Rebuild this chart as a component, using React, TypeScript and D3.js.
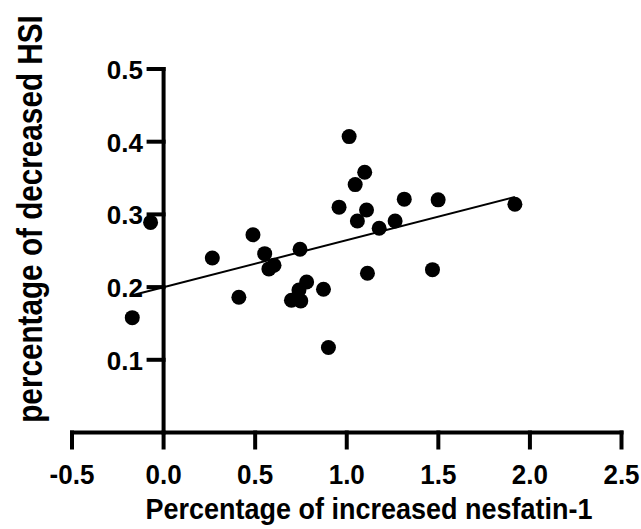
import * as React from 'react';
import * as d3 from 'd3';

// values
const nesfatin: number[] = [
  -0.171, -0.071, 0.266, 0.411, 0.488, 0.552, 0.603, 0.575, 0.745, 0.781,
  0.739, 0.873, 0.698, 0.749, 0.900, 1.113, 1.468, 0.958, 1.013, 1.098,
  1.046, 1.108, 1.058, 1.177, 1.264, 1.314, 1.499, 1.918,
];
const hsi: number[] = [
  0.158, 0.289, 0.240, 0.186, 0.272, 0.246, 0.230, 0.225, 0.252, 0.207,
  0.196, 0.197, 0.182, 0.181, 0.117, 0.219, 0.224, 0.310, 0.407, 0.358,
  0.341, 0.306, 0.291, 0.281, 0.291, 0.321, 0.320, 0.314,
];
const xTicks: number[] = [-0.5, 0, 0.5, 1, 1.5, 2, 2.5];
const yTicks: number[] = [0.1, 0.2, 0.3, 0.4, 0.5];
const xTitle = 'Percentage of increased nesfatin-1';
const yTitle = 'percentage of decreased HSI';

const W = 641;
const H = 529;
const FONT = 'Liberation Sans, Arial, Helvetica, sans-serif';

// prism style labels use a plain hyphen for negatives
const fmt = (v: number) => d3.format('.1f')(v).replace('\u2212', '-');

export default function App() {
  const x = d3.scaleLinear().domain([-0.5, 2.5]).range([72, 621.5]);
  const y = d3.scaleLinear().domain([0, 0.5]).range([432.5, 69]);

  // least squares fit
  const mx = d3.mean(nesfatin) as number;
  const my = d3.mean(hsi) as number;
  let sxy = 0;
  let sxx = 0;
  nesfatin.forEach((v, i) => {
    sxy += (v - mx) * (hsi[i] - my);
    sxx += (v - mx) * (v - mx);
  });
  const slope = sxy / sxx;
  const icpt = my - slope * mx;
  const [x0, x1] = d3.extent(nesfatin) as [number, number];
  const fit = d3.line<number>().x(d => x(d)).y(d => y(icpt + slope * d));

  const axisY = x(0);
  const axisX = y(0);

  return (
    <svg width={W} height={H} style={{ position: 'absolute', left: 0, top: 0 }}>
      <rect width={W} height={H} fill="#fff" />

      {/* fit line */}
      <path d={fit([x0, x1]) || ''} fill="none" stroke="#000" strokeWidth={2} />

      {/* points */}
      {nesfatin.map((v, i) => (
        <circle key={i} cx={x(v)} cy={y(hsi[i])} r={7.5} fill="#000" />
      ))}

      {/* axes */}
      <g stroke="#000" strokeWidth={4} strokeLinecap="square">
        <line x1={x(-0.5)} x2={x(2.5)} y1={axisX} y2={axisX} />
        {xTicks.map(t => (
          <line key={t} x1={x(t)} x2={x(t)} y1={axisX} y2={axisX + 15} />
        ))}
        <line x1={axisY} x2={axisY} y1={y(0.5)} y2={axisX} />
        {yTicks.map(t => (
          <line key={t} x1={axisY - 15} x2={axisY} y1={y(t)} y2={y(t)} />
        ))}
      </g>

      <g fontFamily={FONT} fontWeight="bold" fontSize={26} fill="#000">
        {xTicks.map(t => (
          <text key={t} transform={`translate(${x(t)},484) scale(1,1.08)`} textAnchor="middle">
            {fmt(t)}
          </text>
        ))}
        {yTicks.map(t => (
          <text key={t} x={143} y={y(t) + 10} textAnchor="end">
            {fmt(t)}
          </text>
        ))}
      </g>

      <text
        transform="translate(369,519) scale(1,1.11)"
        textAnchor="middle"
        fontFamily={FONT}
        fontWeight="bold"
        fontSize={27}
      >
        {xTitle}
      </text>
      <text
        transform="translate(41.5,219) rotate(-90) scale(1,1.18)"
        textAnchor="middle"
        fontFamily={FONT}
        fontWeight="bold"
        fontSize={29.7}
      >
        {yTitle}
      </text>
    </svg>
  );
}
